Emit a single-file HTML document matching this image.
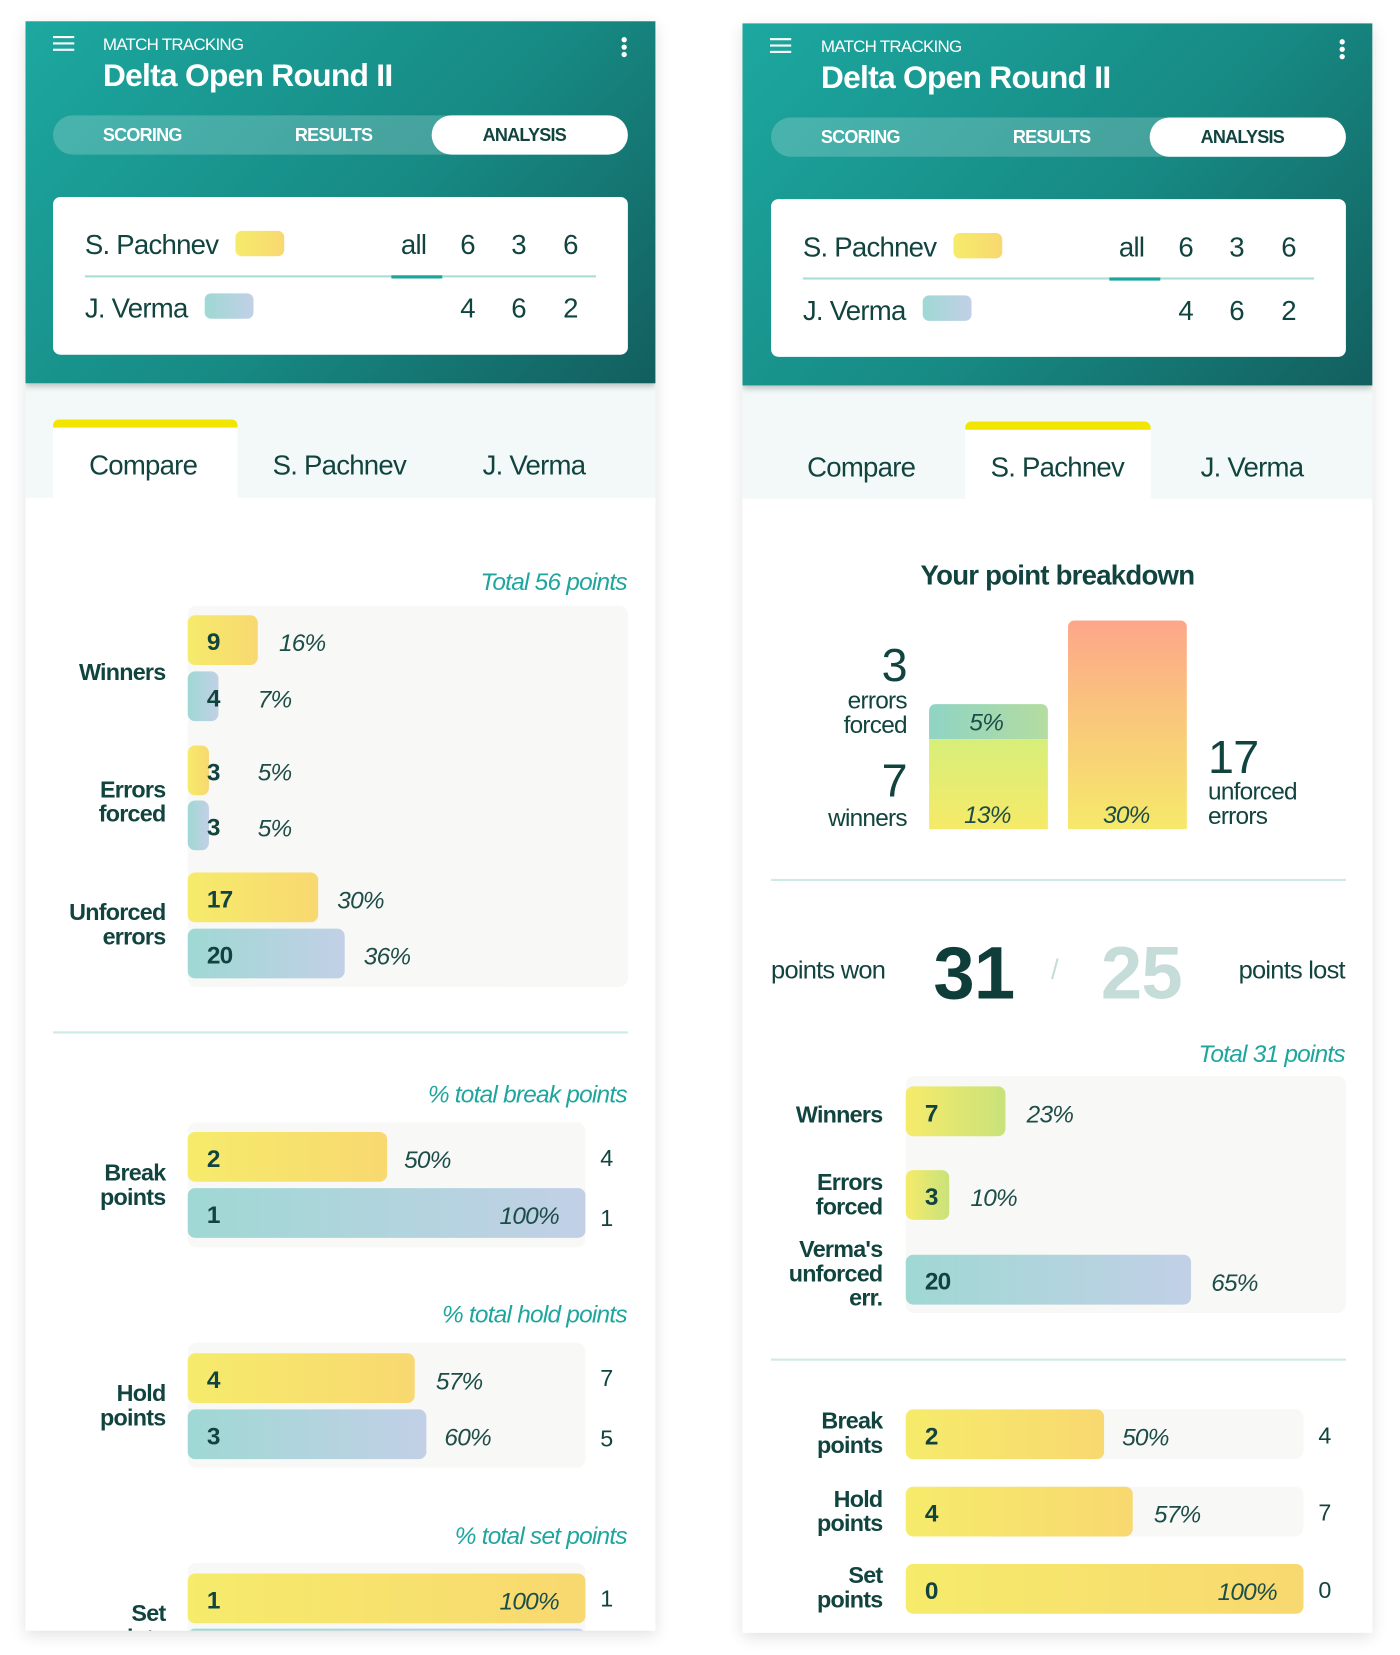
<!DOCTYPE html>
<html><head><meta charset="utf-8"><style>
*{margin:0;padding:0;box-sizing:border-box}
body{width:1400px;height:1655px;background:#fff;overflow:hidden;font-family:"Liberation Sans Narrow","Liberation Sans",sans-serif;color:#12443f;letter-spacing:-0.045em}
#w{position:absolute;left:0;top:0;width:1320px;height:1563px;transform:scale(1.0606,1.0589);transform-origin:0 0}
.a{position:absolute}
.panel{position:absolute;width:594px;height:1520px;background:#fff;box-shadow:0 4px 14px rgba(0,0,0,.12);overflow:hidden}
.hdr{position:absolute;left:0;top:0;width:594px;height:342px;background:linear-gradient(135deg,#1ca8a0 0%,#178a84 55%,#125f5e 100%);box-shadow:0 3px 6px rgba(0,0,0,.25);z-index:2}
.t{position:absolute;white-space:nowrap;line-height:1}
.b{font-weight:bold}
.y{background:linear-gradient(90deg,#f6eb6b,#f8d870);border-radius:7px}
.bl{background:linear-gradient(90deg,#9fd8d4,#c2d0e6)}
.gy{background:linear-gradient(90deg,#f6eb6b,#c9e27a)}
.trk{position:absolute;background:#f8f8f6;border-radius:8px}
.bar{position:absolute;height:47px;border-radius:7px}
.bar span{position:absolute;left:18px;top:12px;font-size:23px;font-weight:bold;color:#12443f}
.pct{position:absolute;font-size:23px;font-style:italic;color:#1d4d48;line-height:1}
.lab{position:absolute;font-size:22px;font-weight:bold;text-align:right;line-height:23px;color:#12443f}
.cap{position:absolute;font-size:23px;font-style:italic;color:#1ea69e;text-align:right;line-height:1}
.sep{position:absolute;height:2px;background:#cdeae7}
.num{position:absolute;font-size:22px;line-height:1}
</style></head><body><div id="w">

<!-- LEFT PANEL -->
<div class="panel" style="left:24px;top:20px">
 <div class="hdr">
  <div class="a" style="left:26px;top:14px;width:20px;height:2px;background:#fff;box-shadow:0 6px 0 #fff,0 12px 0 #fff"></div>
  <div class="t" style="left:73px;top:15px;font-size:16px;color:#fff">MATCH TRACKING</div>
  <div class="t b" style="left:73px;top:37px;font-size:30px;color:#fff">Delta Open Round II</div>
  <div class="a" style="left:562px;top:15px;width:5px;height:5px;border-radius:50%;background:#fff;box-shadow:0 7px 0 #fff,0 14px 0 #fff"></div>
  <div class="a" style="left:26px;top:89px;width:542px;height:37px;border-radius:19px;background:rgba(255,255,255,.2)"></div>
  <div class="a" style="left:383px;top:89px;width:185px;height:37px;border-radius:19px;background:#fff"></div>
  <div class="t b" style="left:73px;top:99px;font-size:17px;color:#fff">SCORING</div>
  <div class="t b" style="left:254px;top:99px;font-size:17px;color:#fff">RESULTS</div>
  <div class="t b" style="left:431px;top:99px;font-size:17px;color:#12443f">ANALYSIS</div>
  <div class="a" style="left:26px;top:166px;width:542px;height:149px;border-radius:7px;background:#fff">
   <div class="t" style="left:30px;top:32px;font-size:26px">S. Pachnev</div>
   <div class="a y" style="left:172px;top:32px;width:46px;height:24px;border-radius:6px"></div>
   <div class="t" style="left:328px;top:32px;font-size:26px">all</div>
   <div class="t" style="left:384px;top:32px;font-size:26px">6</div>
   <div class="t" style="left:432px;top:32px;font-size:26px">3</div>
   <div class="t" style="left:481px;top:32px;font-size:26px">6</div>
   <div class="a" style="left:30px;top:74px;width:482px;height:2px;background:#a8ddd8"></div>
   <div class="a" style="left:319px;top:74px;width:48px;height:3px;background:#1aa59d"></div>
   <div class="t" style="left:30px;top:92px;font-size:26px">J. Verma</div>
   <div class="a bl" style="left:143px;top:91px;width:46px;height:24px;border-radius:6px"></div>
   <div class="t" style="left:384px;top:92px;font-size:26px">4</div>
   <div class="t" style="left:432px;top:92px;font-size:26px">6</div>
   <div class="t" style="left:481px;top:92px;font-size:26px">2</div>
  </div>
 </div>
 <div class="a" style="left:0;top:342px;width:594px;height:108px;background:#f2f9f8"></div>
 <div class="a" style="left:26px;top:376px;width:174px;height:74px;background:#fff;border-top:8px solid #f2e600;border-radius:6px 6px 0 0"></div>
 <div class="t" style="left:60px;top:406px;font-size:26px">Compare</div>
 <div class="t" style="left:233px;top:406px;font-size:26px">S. Pachnev</div>
 <div class="t" style="left:431px;top:406px;font-size:26px">J. Verma</div>

 <div class="cap" style="right:27px;top:518px">Total 56 points</div>
 <div class="trk" style="left:153px;top:552px;width:415px;height:360px"></div>
 <div class="bar y" style="left:153px;top:561px;width:66px"><span>9</span></div><div class="pct" style="left:239px;top:576px">16%</div>
 <div class="bar bl" style="left:153px;top:614px;width:29px"><span>4</span></div><div class="pct" style="left:219px;top:629px">7%</div>
 <div class="bar y" style="left:153px;top:684px;width:20px"><span>3</span></div><div class="pct" style="left:219px;top:698px">5%</div>
 <div class="bar bl" style="left:153px;top:736px;width:20px"><span>3</span></div><div class="pct" style="left:219px;top:751px">5%</div>
 <div class="bar y" style="left:153px;top:804px;width:123px"><span>17</span></div><div class="pct" style="left:294px;top:819px">30%</div>
 <div class="bar bl" style="left:153px;top:857px;width:148px"><span>20</span></div><div class="pct" style="left:319px;top:872px">36%</div>
 <div class="lab" style="right:462px;top:603px">Winners</div>
 <div class="lab" style="right:462px;top:714px">Errors<br>forced</div>
 <div class="lab" style="right:462px;top:830px">Unforced<br>errors</div>
 <div class="sep" style="left:26px;top:954px;width:542px"></div>

 <div class="cap" style="right:27px;top:1002px">% total break points</div>
 <div class="trk" style="left:153px;top:1040px;width:375px;height:118px"></div>
 <div class="bar y" style="left:153px;top:1049px;width:188px"><span>2</span></div><div class="pct" style="left:357px;top:1064px">50%</div>
 <div class="bar bl" style="left:153px;top:1102px;width:375px"><span>1</span></div><div class="pct" style="left:447px;top:1117px">100%</div>
 <div class="num" style="left:542px;top:1063px">4</div><div class="num" style="left:542px;top:1120px">1</div>
 <div class="lab" style="right:462px;top:1076px">Break<br>points</div>

 <div class="cap" style="right:27px;top:1210px">% total hold points</div>
 <div class="trk" style="left:153px;top:1248px;width:375px;height:118px"></div>
 <div class="bar y" style="left:153px;top:1258px;width:214px"><span>4</span></div><div class="pct" style="left:387px;top:1273px">57%</div>
 <div class="bar bl" style="left:153px;top:1311px;width:225px"><span>3</span></div><div class="pct" style="left:395px;top:1326px">60%</div>
 <div class="num" style="left:542px;top:1271px">7</div><div class="num" style="left:542px;top:1328px">5</div>
 <div class="lab" style="right:462px;top:1284px">Hold<br>points</div>

 <div class="cap" style="right:27px;top:1419px">% total set points</div>
 <div class="trk" style="left:153px;top:1456px;width:375px;height:118px"></div>
 <div class="bar y" style="left:153px;top:1466px;width:375px"><span>1</span></div><div class="pct" style="left:447px;top:1481px">100%</div>
 <div class="bar bl" style="left:153px;top:1518px;width:375px"></div>
 <div class="num" style="left:542px;top:1479px">1</div>
 <div class="lab" style="right:462px;top:1492px">Set<br>points</div>
</div>

<!-- RIGHT PANEL -->
<div class="panel" style="left:700px;top:22px">
 <div class="hdr">
  <div class="a" style="left:26px;top:14px;width:20px;height:2px;background:#fff;box-shadow:0 6px 0 #fff,0 12px 0 #fff"></div>
  <div class="t" style="left:74px;top:15px;font-size:16px;color:#fff">MATCH TRACKING</div>
  <div class="t b" style="left:74px;top:37px;font-size:30px;color:#fff">Delta Open Round II</div>
  <div class="a" style="left:563px;top:15px;width:5px;height:5px;border-radius:50%;background:#fff;box-shadow:0 7px 0 #fff,0 14px 0 #fff"></div>
  <div class="a" style="left:27px;top:89px;width:542px;height:37px;border-radius:19px;background:rgba(255,255,255,.2)"></div>
  <div class="a" style="left:384px;top:89px;width:185px;height:37px;border-radius:19px;background:#fff"></div>
  <div class="t b" style="left:74px;top:99px;font-size:17px;color:#fff">SCORING</div>
  <div class="t b" style="left:255px;top:99px;font-size:17px;color:#fff">RESULTS</div>
  <div class="t b" style="left:432px;top:99px;font-size:17px;color:#12443f">ANALYSIS</div>
  <div class="a" style="left:27px;top:166px;width:542px;height:149px;border-radius:7px;background:#fff">
   <div class="t" style="left:30px;top:32px;font-size:26px">S. Pachnev</div>
   <div class="a y" style="left:172px;top:32px;width:46px;height:24px;border-radius:6px"></div>
   <div class="t" style="left:328px;top:32px;font-size:26px">all</div>
   <div class="t" style="left:384px;top:32px;font-size:26px">6</div>
   <div class="t" style="left:432px;top:32px;font-size:26px">3</div>
   <div class="t" style="left:481px;top:32px;font-size:26px">6</div>
   <div class="a" style="left:30px;top:74px;width:482px;height:2px;background:#a8ddd8"></div>
   <div class="a" style="left:319px;top:74px;width:48px;height:3px;background:#1aa59d"></div>
   <div class="t" style="left:30px;top:92px;font-size:26px">J. Verma</div>
   <div class="a bl" style="left:143px;top:91px;width:46px;height:24px;border-radius:6px"></div>
   <div class="t" style="left:384px;top:92px;font-size:26px">4</div>
   <div class="t" style="left:432px;top:92px;font-size:26px">6</div>
   <div class="t" style="left:481px;top:92px;font-size:26px">2</div>
  </div>
 </div>
 <div class="a" style="left:0;top:342px;width:594px;height:107px;background:#f2f9f8"></div>
 <div class="a" style="left:210px;top:376px;width:175px;height:73px;background:#fff;border-top:8px solid #f2e600;border-radius:6px 6px 0 0"></div>
 <div class="t" style="left:61px;top:406px;font-size:26px">Compare</div>
 <div class="t" style="left:234px;top:406px;font-size:26px">S. Pachnev</div>
 <div class="t" style="left:432px;top:406px;font-size:26px">J. Verma</div>

 <div class="t b" style="left:0;width:594px;text-align:center;top:508px;font-size:26px">Your point breakdown</div>
 <div class="a" style="left:176px;top:643px;width:112px;height:33px;border-radius:6px 6px 0 0;background:linear-gradient(90deg,#8fd4c4,#b4dca0)"></div>
 <div class="a" style="left:176px;top:676px;width:112px;height:85px;background:linear-gradient(180deg,#d7ee7a,#f6ea68)"></div>
 <div class="a" style="left:307px;top:564px;width:112px;height:197px;border-radius:6px 6px 0 0;background:linear-gradient(180deg,#fda68a 0%,#f9c97a 50%,#f6e96a 100%)"></div>
 <div class="pct" style="left:214px;top:649px">5%</div>
 <div class="pct" style="left:209px;top:736px">13%</div>
 <div class="pct" style="left:340px;top:736px">30%</div>
 <div class="t" style="right:439px;top:585px;font-size:44px">3</div>
 <div class="t" style="right:439px;top:628px;font-size:23px;text-align:right;line-height:23px">errors<br>forced</div>
 <div class="t" style="right:439px;top:694px;font-size:44px">7</div>
 <div class="t" style="right:439px;top:739px;font-size:23px">winners</div>
 <div class="t" style="left:439px;top:672px;font-size:44px">17</div>
 <div class="t" style="left:439px;top:714px;font-size:23px;line-height:23px">unforced<br>errors</div>
 <div class="sep" style="left:27px;top:808px;width:542px"></div>

 <div class="t" style="left:27px;top:883px;font-size:24px">points won</div>
 <div class="t b" style="left:180px;top:862px;font-size:70px;color:#0f3d39">31</div>
 <div class="t" style="left:291px;top:880px;font-size:26px;color:#c5dcd9">/</div>
 <div class="t b" style="left:338px;top:862px;font-size:70px;color:#c5dcd9">25</div>
 <div class="t" style="right:26px;top:883px;font-size:24px">points lost</div>

 <div class="cap" style="right:26px;top:962px">Total 31 points</div>
 <div class="trk" style="left:154px;top:994px;width:415px;height:224px"></div>
 <div class="bar gy" style="left:154px;top:1004px;width:94px"><span>7</span></div><div class="pct" style="left:268px;top:1019px">23%</div>
 <div class="bar gy" style="left:154px;top:1083px;width:41px"><span>3</span></div><div class="pct" style="left:215px;top:1098px">10%</div>
 <div class="bar bl" style="left:154px;top:1163px;width:269px"><span>20</span></div><div class="pct" style="left:442px;top:1178px">65%</div>
 <div class="lab" style="right:462px;top:1019px">Winners</div>
 <div class="lab" style="right:462px;top:1083px">Errors<br>forced</div>
 <div class="lab" style="right:462px;top:1146px">Verma's<br>unforced<br>err.</div>
 <div class="sep" style="left:27px;top:1261px;width:542px"></div>

 <div class="trk" style="left:154px;top:1309px;width:375px;height:47px"></div>
 <div class="bar y" style="left:154px;top:1309px;width:187px"><span>2</span></div><div class="pct" style="left:358px;top:1324px">50%</div>
 <div class="num" style="left:543px;top:1323px">4</div>
 <div class="lab" style="right:462px;top:1308px">Break<br>points</div>
 <div class="trk" style="left:154px;top:1382px;width:375px;height:47px"></div>
 <div class="bar y" style="left:154px;top:1382px;width:214px"><span>4</span></div><div class="pct" style="left:388px;top:1397px">57%</div>
 <div class="num" style="left:543px;top:1396px">7</div>
 <div class="lab" style="right:462px;top:1382px">Hold<br>points</div>
 <div class="bar y" style="left:154px;top:1455px;width:375px"><span>0</span></div><div class="pct" style="left:448px;top:1470px">100%</div>
 <div class="num" style="left:543px;top:1469px">0</div>
 <div class="lab" style="right:462px;top:1454px">Set<br>points</div>
</div>
</div></body></html>
